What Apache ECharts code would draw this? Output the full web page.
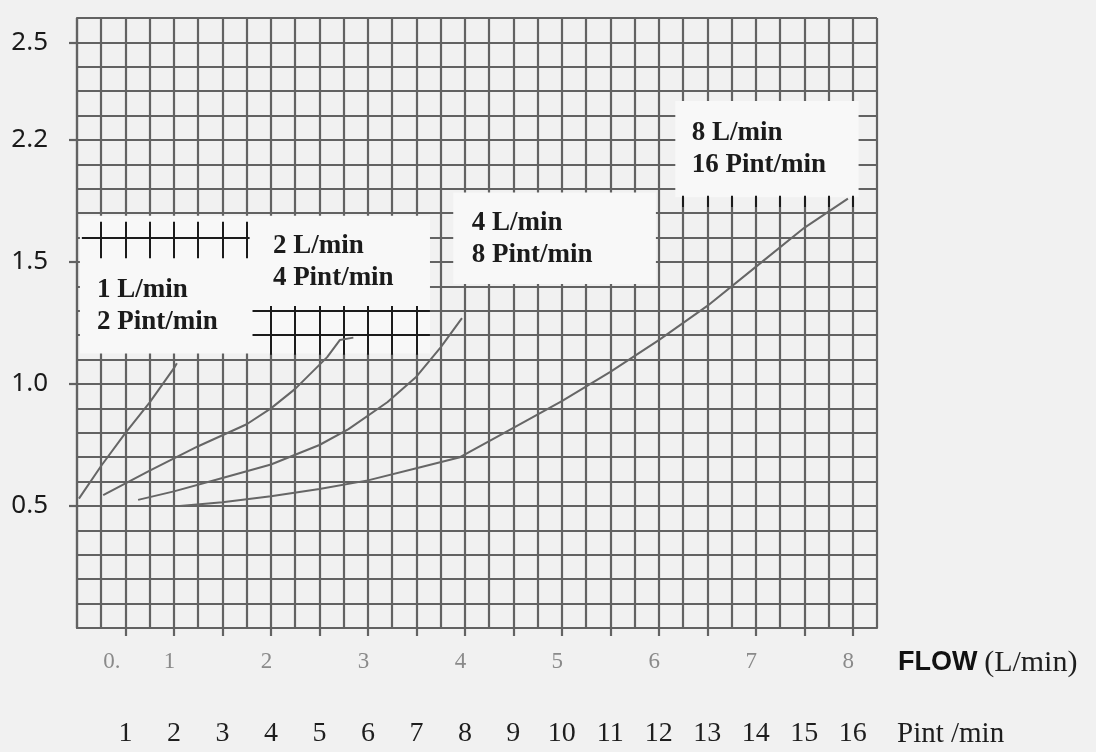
<!DOCTYPE html>
<html>
<head>
<meta charset="utf-8">
<title>Pressure vs flow</title>
<script src="https://cdn.jsdelivr.net/npm/echarts@6/dist/echarts.min.js"></script>
<style>
  html, body { margin: 0; padding: 0; background: #f1f1f1; }
  #chart { width: 1096px; height: 752px; }
</style>
</head>
<body>
<div id="chart"></div>
<script>
// ---- data -----------------------------------------------------------------
// Pressure curves, one per flow scale: [flow L/min, pressure]
const curve1Lpm = [[0.02, 0.53], [0.25, 0.665], [0.5, 0.80], [0.75, 0.925], [1.0, 1.065], [1.03, 1.085]];
const curve2Lpm = [[0.27, 0.545], [0.75, 0.645], [1.25, 0.745], [1.75, 0.835], [2.0, 0.90], [2.25, 0.98], [2.58, 1.11], [2.71, 1.18], [2.85, 1.19]];
const curve4Lpm = [[0.63, 0.525], [1.0, 0.56], [1.5, 0.615], [2.0, 0.67], [2.5, 0.75], [2.8, 0.815], [3.2, 0.925], [3.5, 1.03], [3.75, 1.15], [3.97, 1.27]];
const curve8Lpm = [[1.06, 0.50], [1.5, 0.515], [2.0, 0.54], [2.5, 0.57], [3.0, 0.605], [3.5, 0.655], [3.95, 0.70], [4.5, 0.82], [5.0, 0.93], [5.5, 1.05], [6.0, 1.18], [6.5, 1.32], [7.0, 1.48], [7.5, 1.64], [7.95, 1.76]];

// Axis ticks and their printed labels
const pressureTickValues = [0.5, 1.0, 1.5, 2.0, 2.4];
const pressureTickLabels = ['0.5', '1.0', '1.5', '2.2', '2.5'];
const flowTickValues = [0.5, 1, 2, 3, 4, 5, 6, 7, 8];
const flowTickLabels = ['0.', '1', '2', '3', '4', '5', '6', '7', '8'];
const pintTickValues = [1, 2, 3, 4, 5, 6, 7, 8, 9, 10, 11, 12, 13, 14, 15, 16];
const pintTickLabels = ['1', '2', '3', '4', '5', '6', '7', '8', '9', '10', '11', '12', '13', '14', '15', '16'];

// Scale captions printed inside the panels
const scaleCaptions = ['1 L/min\n2 Pint/min', '2 L/min\n4 Pint/min', '4 L/min\n8 Pint/min', '8 L/min\n16 Pint/min'];

// ---- layout & style -------------------------------------------------------
const GRID = '#626262';
const CURVE = '#666666';
const INK = '#1b1b1b';
const PAPER = '#f8f8f8';

// caption anchors (left edge, vertical middle) in axis units
const captionAnchors = [[0.206, 1.32], [2.02, 1.50], [4.07, 1.594], [6.34, 1.963]];
// blank panels laid over the grid: [x0, y0, x1, y1] in axis units
const panels = [[0.03, 1.125, 3.64, 1.69], [3.88, 1.41, 5.97, 1.785], [6.17, 1.765, 8.06, 2.16]];

function seg(x0, y0, x1, y1) { return [{ coord: [x0, y0] }, { coord: [x1, y1] }]; }
function lookup(values, labels, v) {
  const i = values.findIndex(t => Math.abs(t - v) < 1e-6);
  return i < 0 ? '' : labels[i];
}

// small rulers drawn inside the panels
const rulers = [];
rulers.push(seg(0.05, 1.6, 1.78, 1.6));
for (let x = 0.25; x <= 1.751; x += 0.25) rulers.push(seg(x, 1.515, x, 1.665));
rulers.push(seg(1.81, 1.3, 3.64, 1.3));
rulers.push(seg(1.81, 1.2, 3.64, 1.2));
for (let x = 2.0; x <= 3.501; x += 0.25) rulers.push(seg(x, 1.12, x, 1.32));
for (let x = 6.25; x <= 8.001; x += 0.25) rulers.push(seg(x, 1.725, x, 1.772));

const curveStyle = { color: CURVE, width: 2 };
function curve(name, data) {
  return {
    name, type: 'line', data, z: 5, silent: true,
    xAxisIndex: 0, yAxisIndex: 0,
    symbol: 'none', showSymbol: false, smooth: false,
    lineStyle: curveStyle, itemStyle: { color: CURVE }
  };
}

const chart = echarts.init(document.getElementById('chart'), null, { renderer: 'canvas' });

chart.setOption({
  backgroundColor: '#f1f1f1',
  animation: false,
  grid: { left: 77, right: 219, top: 18, bottom: 124 },
  xAxis: [
    {
      type: 'value', min: 0, max: 8.25, interval: 0.25,
      axisLine: { show: false }, axisTick: { show: false },
      splitLine: { show: true, lineStyle: { color: GRID, width: 2.2 } },
      axisLabel: {
        customValues: flowTickValues,
        margin: 22,
        formatter: v => {
          const t = lookup(flowTickValues, flowTickLabels, v);
          return v < 0.75 ? '{s|' + t + '}' : '{n|' + t + '}';
        },
        rich: {
          s: { fontFamily: 'Liberation Serif', fontSize: 23, color: '#8a8a8a', padding: [0, 27, 0, 0] },
          n: { fontFamily: 'Liberation Serif', fontSize: 23, color: '#8a8a8a', padding: [0, 9, 0, 0] }
        }
      },
      name: '{b|FLOW}  {r|(L/min)}',
      nameLocation: 'end', nameGap: 21,
      nameTextStyle: {
        verticalAlign: 'top', padding: [20, 0, 0, 0],
        rich: {
          b: { fontFamily: 'Liberation Sans', fontWeight: 'bold', fontSize: 27, color: '#111' },
          r: { fontFamily: 'Liberation Serif', fontSize: 30, color: '#1e1e1e' }
        }
      }
    },
    {
      type: 'value', min: 0, max: 16.5, position: 'bottom',
      axisLine: { show: true, lineStyle: { color: GRID, width: 2.2 } },
      axisTick: { show: true, customValues: pintTickValues, length: 8, lineStyle: { color: GRID, width: 2.2 } },
      splitLine: { show: false },
      axisLabel: {
        customValues: pintTickValues,
        margin: 92,
        formatter: v => lookup(pintTickValues, pintTickLabels, v),
        fontFamily: 'Liberation Serif', fontSize: 28, color: '#1e1e1e'
      },
      name: 'Pint /min',
      nameLocation: 'end', nameGap: 20,
      nameTextStyle: {
        verticalAlign: 'top', padding: [92, 0, 0, 0],
        fontFamily: 'Liberation Serif', fontSize: 29, color: '#1e1e1e'
      }
    }
  ],
  yAxis: [
    {
      // grid rows every 0.1
      type: 'value', min: 0, max: 2.5, interval: 0.1,
      axisLine: { show: true, lineStyle: { color: GRID, width: 2.2 } },
      axisTick: { show: false },
      axisLabel: { show: false },
      splitLine: { show: true, lineStyle: { color: GRID, width: 2.2 } }
    },
    {
      // printed pressure labels with their outward ticks
      type: 'value', min: 0, max: 2.5, position: 'left', offset: 0,
      axisLine: { show: false },
      splitLine: { show: false },
      axisTick: { show: true, customValues: pressureTickValues, length: 8, lineStyle: { color: GRID, width: 2.2 } },
      axisLabel: {
        customValues: pressureTickValues,
        margin: 29,
        formatter: v => lookup(pressureTickValues, pressureTickLabels, v),
        fontFamily: 'Noto Sans', fontSize: 26, color: '#1a1a1a'
      }
    }
  ],
  series: [
    {
      name: 'panels', type: 'line', data: [], z: 2, silent: true,
      markArea: {
        silent: true,
        itemStyle: { color: PAPER, borderWidth: 0 },
        label: { show: false },
        data: panels.map(p => [{ coord: [p[0], p[1]] }, { coord: [p[2], p[3]] }])
      }
    },
    {
      name: 'rulers', type: 'line', data: [], z: 3, silent: true,
      markLine: {
        silent: true, symbol: ['none', 'none'],
        lineStyle: { color: INK, width: 2, type: 'solid' },
        label: { show: false },
        data: rulers
      },
      markPoint: {
        silent: true, symbol: 'circle', symbolSize: 0,
        itemStyle: { color: 'rgba(0,0,0,0)' },
        label: {
          show: true, position: 'right', distance: 0, formatter: '{b}',
          fontFamily: 'Liberation Serif', fontWeight: 'bold', fontSize: 27, lineHeight: 32, color: INK
        },
        data: scaleCaptions.map((t, i) => ({ name: t, coord: captionAnchors[i] }))
      }
    },
    curve('1 L/min', curve1Lpm),
    curve('2 L/min', curve2Lpm),
    curve('4 L/min', curve4Lpm),
    curve('8 L/min', curve8Lpm)
  ]
});
</script>
</body>
</html>
